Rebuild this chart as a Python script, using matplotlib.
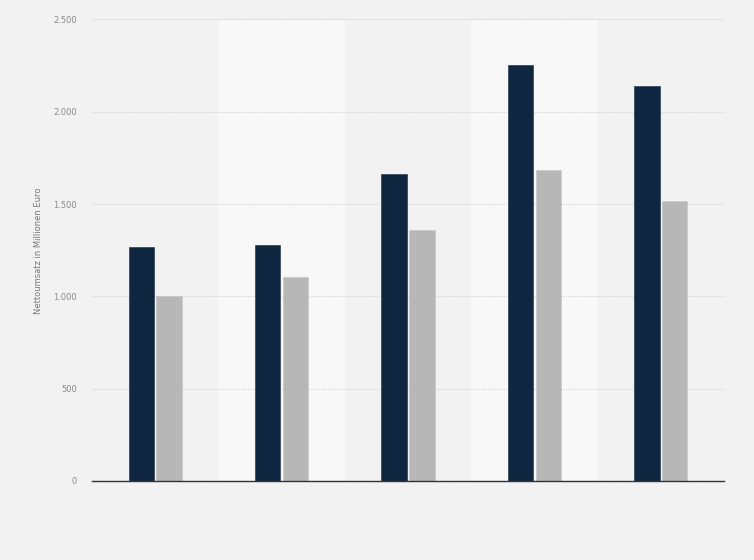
import numpy as np
import matplotlib.pyplot as plt
from matplotlib.ticker import FuncFormatter

# values (million euro), no x labels shown in the reference
groups = ['', '', '', '', '']
series_dark = [1266, 1277, 1663, 2254, 2140]
series_grey = [1000, 1103, 1360, 1683, 1515]
y_ticks = [0, 500, 1000, 1500, 2000, 2500]

bg = '#f2f2f2'
band = '#f8f8f8'
dark = '#0f2640'
grey = '#b7b7b7'

fig = plt.figure(figsize=(7.54, 5.6), dpi=100, facecolor=bg)
ax = fig.add_axes([92 / 754, 1 - 481 / 560, 632 / 754, 461.5 / 560])
ax.set_facecolor('none')

x = np.arange(len(groups))

# alternating lighter column bands (2nd and 4th group)
for i in x:
    if i % 2 == 1:
        ax.axvspan(i - 0.5, i + 0.5, color=band, zorder=0, lw=0)

ax.set_ylim(0, 2500)
ax.set_xlim(-0.5, len(groups) - 0.5)
ax.set_yticks(y_ticks)
ax.yaxis.set_major_formatter(FuncFormatter(lambda v, p: f'{int(v):,}'.replace(',', '.')))
ax.grid(axis='y', color='#d6d6d6', linestyle=(0, (1, 1)), lw=0.8, zorder=1)
ax.set_axisbelow(True)
for gl in ax.get_ygridlines():
    gl.set_clip_on(False)

w = 0.2
ax.bar(x - 0.11, series_dark, width=w, color=dark, edgecolor='#2c3f55', lw=0.5, zorder=3)
ax.bar(x + 0.11, series_grey, width=w, color=grey, edgecolor='#c8c8c8', lw=0.5, zorder=3)

for s in ['top', 'right', 'left']:
    ax.spines[s].set_visible(False)
ax.spines['bottom'].set_color('#333333')
ax.spines['bottom'].set_linewidth(1)
ax.spines['bottom'].set_zorder(4)

ax.set_xticks(x)
ax.set_xticklabels(groups)
ax.tick_params(axis='x', length=0)
ax.tick_params(axis='y', length=0, labelsize=6, labelcolor='#8a8a8a', pad=11)
ax.set_ylabel('Nettoumsatz in Millionen Euro', fontsize=6, color='#777777', labelpad=7)

fig.savefig('out.png', dpi=100, facecolor=bg)
